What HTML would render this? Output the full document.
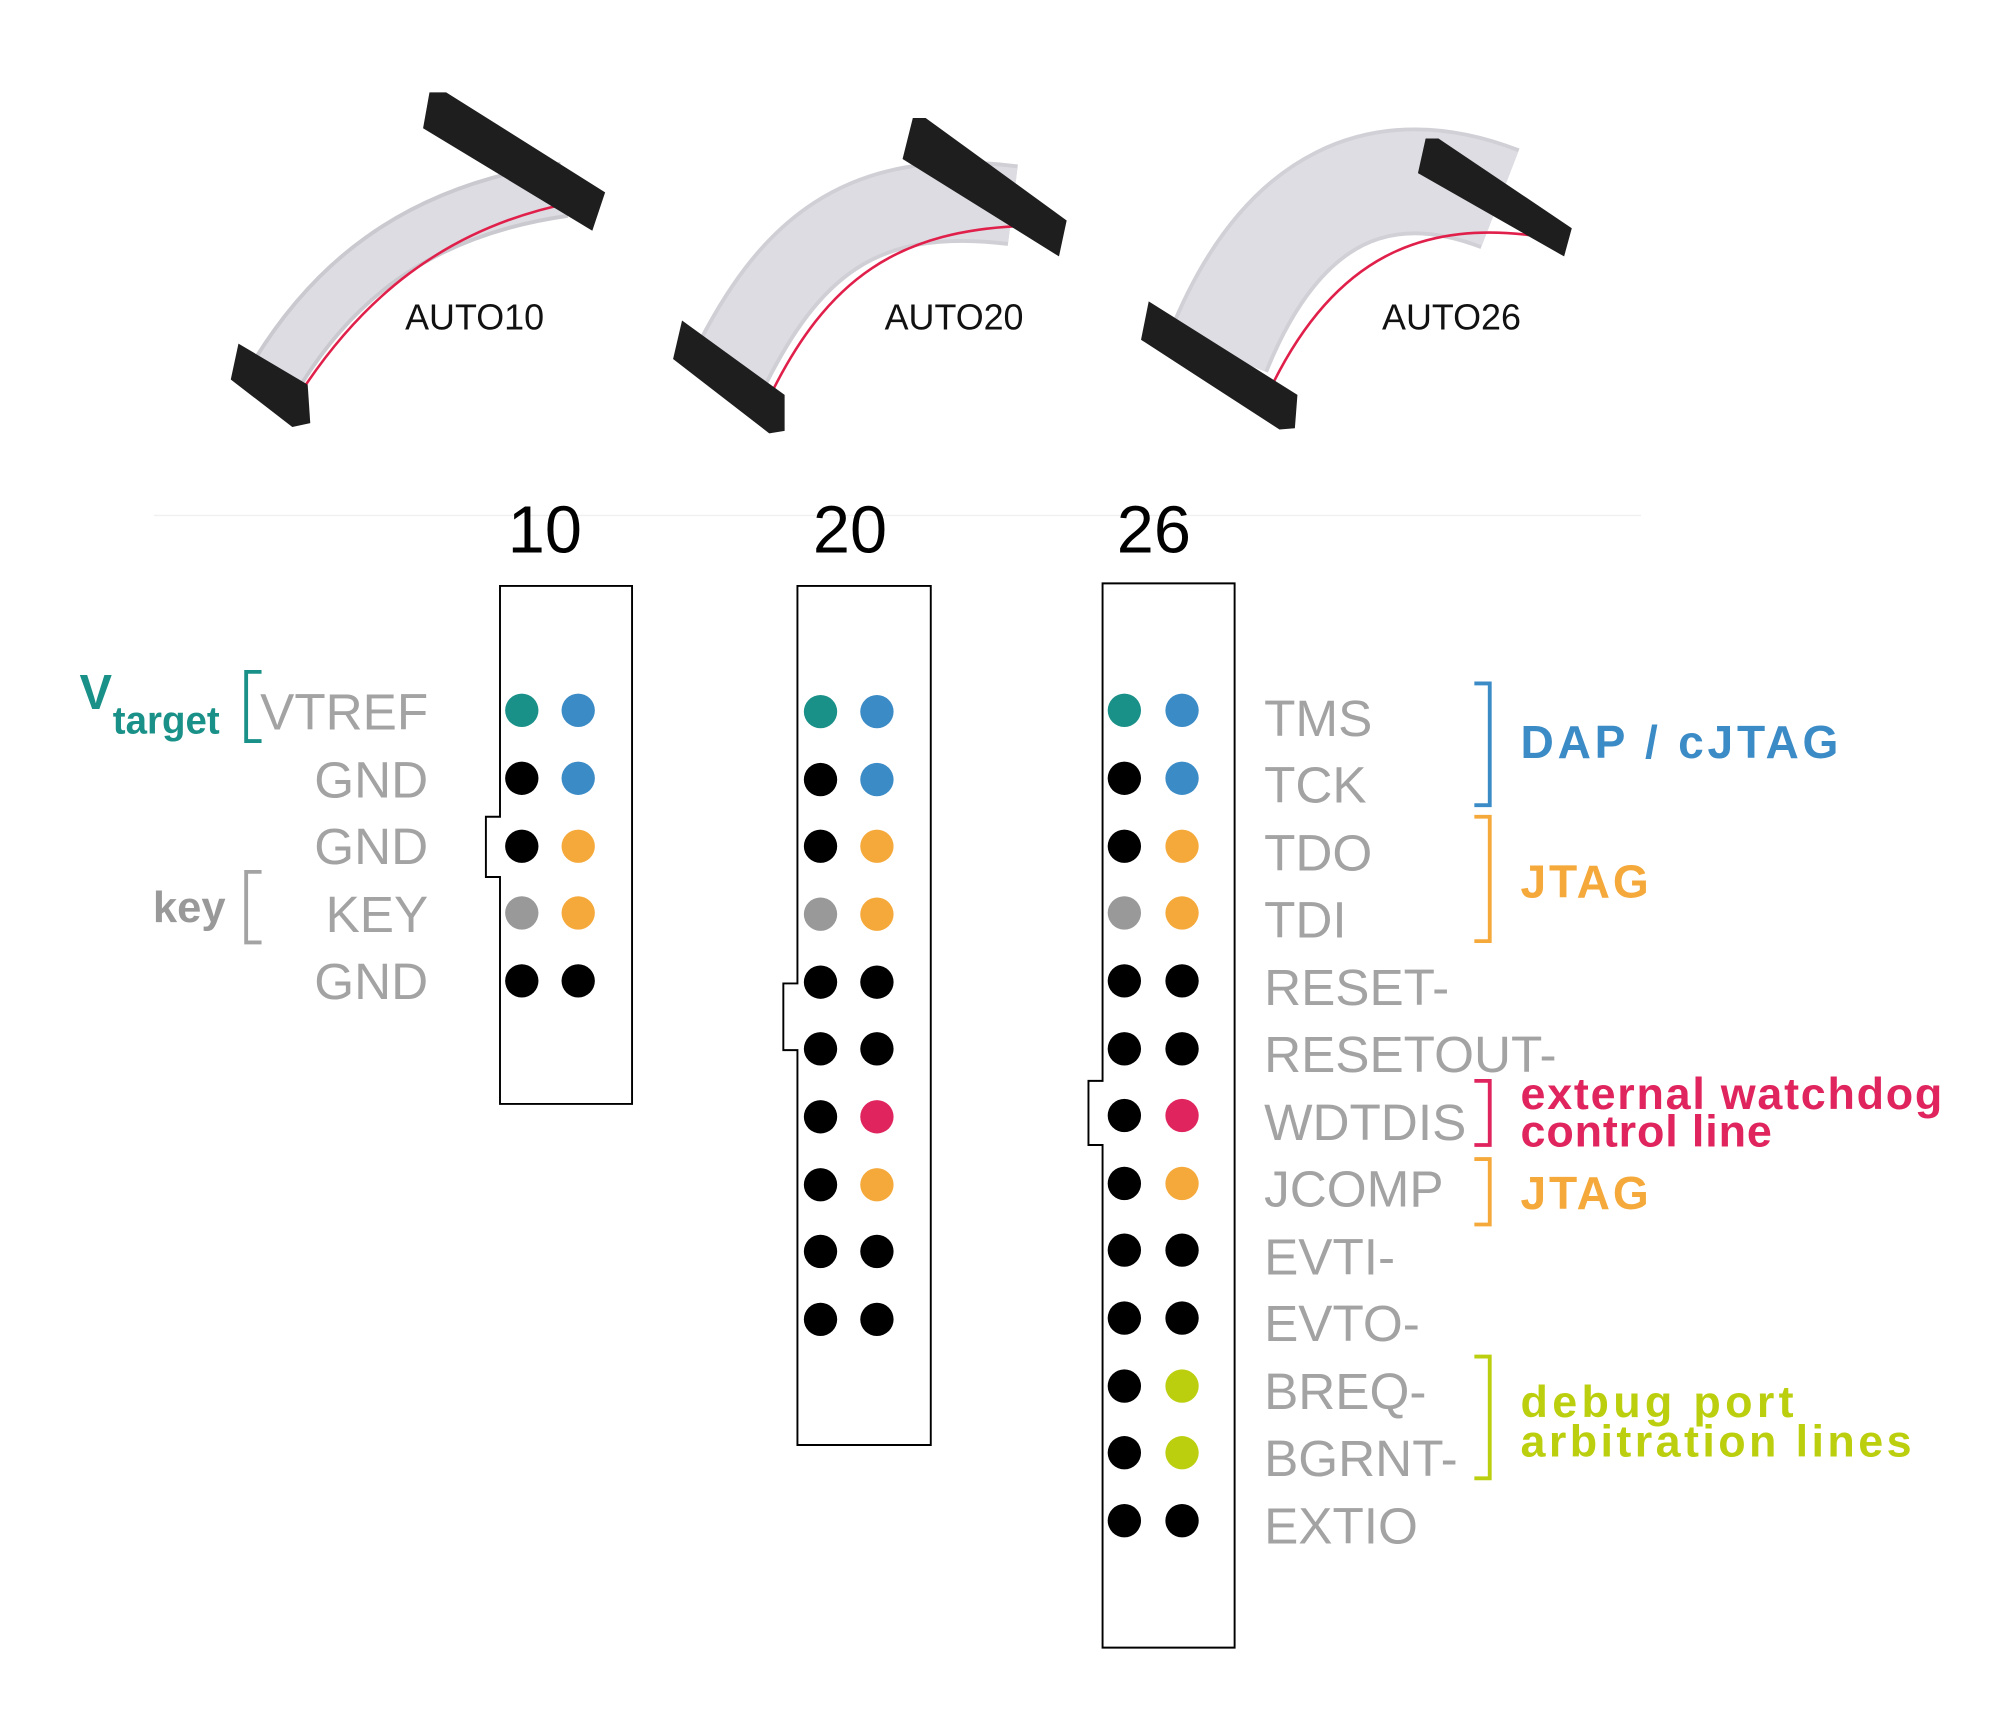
<!DOCTYPE html>
<html><head><meta charset="utf-8"><style>
html,body{margin:0;padding:0;background:#fff;}
svg{display:block;}
text{font-family:"Liberation Sans",sans-serif;}
</style></head><body>
<svg width="2000" height="1713" viewBox="0 0 1560 1336" preserveAspectRatio="none" xmlns="http://www.w3.org/2000/svg">
<rect width="1560" height="1336" fill="#fff"/>
<line x1="120" y1="402" x2="1280" y2="402" stroke="#f0f0f0" stroke-width="1"/>

<!-- Cable 1 -->
<g>
<path d="M212,298 C255,225 320,165 440,148" stroke="#c9c9cf" stroke-width="44" fill="none"/>
<path d="M212,298 C255,225 320,165 440,148" stroke="#dcdce2" stroke-width="38" fill="none"/>
<path d="M232,310 C280,235 345,178 446,158" stroke="#e0204a" stroke-width="2" fill="none"/>
<polygon points="335,72 348,72 472,150 462,180 330,100" fill="#1e1e1e"/>
<polygon points="186,268 240,300 242,330 228,333 180,296" fill="#1e1e1e"/>
</g>
<!-- Cable 2 -->
<g>
<path d="M568,290 C615,195 670,145 790,160" stroke="#cfcfd5" stroke-width="64" fill="none"/>
<path d="M568,290 C615,195 670,145 790,160" stroke="#dcdce2" stroke-width="58" fill="none"/>
<path d="M600,310 C645,218 700,178 805,176" stroke="#e0204a" stroke-width="2" fill="none"/>
<polygon points="712,92 722,92 832,172 826,200 704,124" fill="#1e1e1e"/>
<polygon points="532,250 612,308 612,336 600,338 525,280" fill="#1e1e1e"/>
</g>
<!-- Cable 3 -->
<g>
<path d="M950,275 C1000,150 1080,120 1170,155" stroke="#d0d0d6" stroke-width="84" fill="none"/>
<path d="M950,275 C1000,150 1080,120 1170,155" stroke="#dddde3" stroke-width="78" fill="none"/>
<path d="M990,305 C1040,200 1110,170 1205,185" stroke="#e0204a" stroke-width="2" fill="none"/>
<polygon points="1112,108 1122,108 1226,178 1220,200 1106,135" fill="#1e1e1e"/>
<polygon points="896,235 1012,308 1010,334 998,335 890,265" fill="#1e1e1e"/>
</g>
<text x="316" y="257" font-size="28" fill="#111">AUTO10</text>
<text x="690" y="257" font-size="28" fill="#111">AUTO20</text>
<text x="1078" y="257" font-size="28" fill="#111">AUTO26</text>

<!-- numbers -->
<text x="425" y="431" font-size="52" text-anchor="middle" fill="#000">10</text>
<text x="663" y="431" font-size="52" text-anchor="middle" fill="#000">20</text>
<text x="900" y="431" font-size="52" text-anchor="middle" fill="#000">26</text>

<!-- boxes -->
<path d="M390,457 H493 V861 H390 V684 H379 V637 H390 Z" fill="#fff" stroke="#000" stroke-width="1.5"/>
<path d="M622,457 H726 V1127 H622 V819 H611 V767 H622 Z" fill="#fff" stroke="#000" stroke-width="1.5"/>
<path d="M860,455 H963 V1285 H860 V893 H849 V843 H860 Z" fill="#fff" stroke="#000" stroke-width="1.5"/>

<!-- dots box10 -->
<g>
<circle cx="407" cy="554" r="13" fill="#1a9188"/><circle cx="451" cy="554" r="13" fill="#3b8bc6"/>
<circle cx="407" cy="607" r="13" fill="#000"/><circle cx="451" cy="607" r="13" fill="#3b8bc6"/>
<circle cx="407" cy="660" r="13" fill="#000"/><circle cx="451" cy="660" r="13" fill="#f5a93a"/>
<circle cx="407" cy="712" r="13" fill="#999"/><circle cx="451" cy="712" r="13" fill="#f5a93a"/>
<circle cx="407" cy="765" r="13" fill="#000"/><circle cx="451" cy="765" r="13" fill="#000"/>
</g>
<!-- dots box20 -->
<g>
<circle cx="640" cy="555" r="13" fill="#1a9188"/><circle cx="684" cy="555" r="13" fill="#3b8bc6"/>
<circle cx="640" cy="608" r="13" fill="#000"/><circle cx="684" cy="608" r="13" fill="#3b8bc6"/>
<circle cx="640" cy="660" r="13" fill="#000"/><circle cx="684" cy="660" r="13" fill="#f5a93a"/>
<circle cx="640" cy="713" r="13" fill="#999"/><circle cx="684" cy="713" r="13" fill="#f5a93a"/>
<circle cx="640" cy="766" r="13" fill="#000"/><circle cx="684" cy="766" r="13" fill="#000"/>
<circle cx="640" cy="818" r="13" fill="#000"/><circle cx="684" cy="818" r="13" fill="#000"/>
<circle cx="640" cy="871" r="13" fill="#000"/><circle cx="684" cy="871" r="13" fill="#e0245e"/>
<circle cx="640" cy="924" r="13" fill="#000"/><circle cx="684" cy="924" r="13" fill="#f5a93a"/>
<circle cx="640" cy="976" r="13" fill="#000"/><circle cx="684" cy="976" r="13" fill="#000"/>
<circle cx="640" cy="1029" r="13" fill="#000"/><circle cx="684" cy="1029" r="13" fill="#000"/>
</g>
<!-- dots box26 -->
<g>
<circle cx="877" cy="554" r="13" fill="#1a9188"/><circle cx="922" cy="554" r="13" fill="#3b8bc6"/>
<circle cx="877" cy="607" r="13" fill="#000"/><circle cx="922" cy="607" r="13" fill="#3b8bc6"/>
<circle cx="877" cy="660" r="13" fill="#000"/><circle cx="922" cy="660" r="13" fill="#f5a93a"/>
<circle cx="877" cy="712" r="13" fill="#999"/><circle cx="922" cy="712" r="13" fill="#f5a93a"/>
<circle cx="877" cy="765" r="13" fill="#000"/><circle cx="922" cy="765" r="13" fill="#000"/>
<circle cx="877" cy="818" r="13" fill="#000"/><circle cx="922" cy="818" r="13" fill="#000"/>
<circle cx="877" cy="870" r="13" fill="#000"/><circle cx="922" cy="870" r="13" fill="#e0245e"/>
<circle cx="877" cy="923" r="13" fill="#000"/><circle cx="922" cy="923" r="13" fill="#f5a93a"/>
<circle cx="877" cy="975" r="13" fill="#000"/><circle cx="922" cy="975" r="13" fill="#000"/>
<circle cx="877" cy="1028" r="13" fill="#000"/><circle cx="922" cy="1028" r="13" fill="#000"/>
<circle cx="877" cy="1081" r="13" fill="#000"/><circle cx="922" cy="1081" r="13" fill="#bccf0f"/>
<circle cx="877" cy="1133" r="13" fill="#000"/><circle cx="922" cy="1133" r="13" fill="#bccf0f"/>
<circle cx="877" cy="1186" r="13" fill="#000"/><circle cx="922" cy="1186" r="13" fill="#000"/>
</g>

<!-- left labels -->
<g font-size="40" fill="#a3a3a3" text-anchor="end">
<text x="334" y="569">VTREF</text>
<text x="334" y="622">GND</text>
<text x="334" y="674">GND</text>
<text x="334" y="727">KEY</text>
<text x="334" y="779">GND</text>
</g>
<text x="62" y="553" font-size="38" fill="#1a9188" font-weight="bold">V</text>
<text x="88" y="572" font-size="30" fill="#1a9188" font-weight="bold">target</text>
<path d="M204,524 H192 V578 H204" stroke="#1a9188" stroke-width="3" fill="none"/>
<text x="176" y="719" font-size="34" fill="#999" font-weight="bold" text-anchor="end">key</text>
<path d="M204,680 H192 V735 H204" stroke="#a3a3a3" stroke-width="3" fill="none"/>

<!-- right labels -->
<g font-size="40" fill="#a3a3a3">
<text x="986" y="574">TMS</text>
<text x="986" y="626">TCK</text>
<text x="986" y="679">TDO</text>
<text x="986" y="731">TDI</text>
<text x="986" y="784">RESET-</text>
<text x="986" y="836">RESETOUT-</text>
<text x="986" y="889">WDTDIS</text>
<text x="986" y="941">JCOMP</text>
<text x="986" y="994">EVTI-</text>
<text x="986" y="1046">EVTO-</text>
<text x="986" y="1099">BREQ-</text>
<text x="986" y="1151">BGRNT-</text>
<text x="986" y="1204">EXTIO</text>
</g>
<path d="M1150,533 H1162 V628 H1150" stroke="#3b8bc6" stroke-width="3" fill="none"/>
<path d="M1150,637 H1162 V734 H1150" stroke="#f5a93a" stroke-width="3" fill="none"/>
<path d="M1150,843 H1162 V893 H1150" stroke="#e0245e" stroke-width="3" fill="none"/>
<path d="M1150,904 H1162 V955 H1150" stroke="#f5a93a" stroke-width="3" fill="none"/>
<path d="M1150,1058 H1162 V1153 H1150" stroke="#bccf0f" stroke-width="3" fill="none"/>

<g font-weight="bold">
<text x="1186" y="591" font-size="36" fill="#3b8bc6" textLength="248" lengthAdjust="spacing">DAP / cJTAG</text>
<text x="1186" y="700" font-size="36" fill="#f5a93a" textLength="100" lengthAdjust="spacing">JTAG</text>
<text x="1186" y="865" font-size="35" fill="#e0245e" textLength="329" lengthAdjust="spacing">external watchdog</text>
<text x="1186" y="894" font-size="35" fill="#e0245e" textLength="196" lengthAdjust="spacing">control line</text>
<text x="1186" y="943" font-size="36" fill="#f5a93a" textLength="100" lengthAdjust="spacing">JTAG</text>
<text x="1186" y="1105" font-size="35" fill="#bccf0f" textLength="213" lengthAdjust="spacing">debug port</text>
<text x="1186" y="1136" font-size="35" fill="#bccf0f" textLength="305" lengthAdjust="spacing">arbitration lines</text>
</g>
</svg>
</body></html>
